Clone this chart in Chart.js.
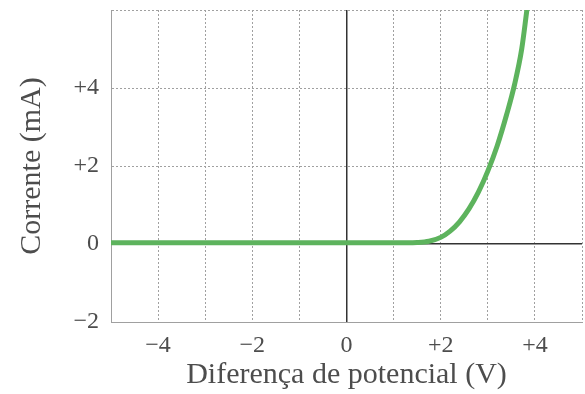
<!doctype html>
<html lang="pt">
<head>
  <meta charset="utf-8">
  <title>Corrente x Diferença de potencial</title>
  <style>
    html, body {
      margin: 0;
      padding: 0;
      background: #fff;
    }
    .wrap {
      width: 585px;
      height: 394px;
      position: relative;
    }
  </style>
</head>
<body>
  <div class="wrap">
    <canvas id="diodeChart"></canvas>
  </div>

  <script src="https://cdn.jsdelivr.net/npm/chart.js"></script>
  <script>
    // curve: voltage (V) vs current (mA)
    const voltage = [-5, -4, -3, -2, -1, 0, 1, 1.5, 1.75, 2.0, 2.2, 2.4, 2.6, 2.8, 3.0, 3.2, 3.4, 3.57, 3.72, 3.83];
    const current = [0.03, 0.03, 0.03, 0.03, 0.03, 0.03, 0.03, 0.04, 0.07, 0.17, 0.33, 0.57, 0.9, 1.33, 1.87, 2.52, 3.32, 4.1, 5.0, 6.0];

    // labelled ticks
    const xLabelValues = [-4, -2, 0, 2, 4];
    const yLabelValues = [-2, 0, 2, 4];

    const serif = 'Liberation Serif';
    const textColor = '#4d4d4d';
    const gridColor = '#a0a0a0';
    const axisColor = '#333';

    function signed(v) {
      if (v === 0) return '0';
      return v > 0 ? '+' + v : '\u2212' + Math.abs(v);
    }

    const points = voltage.map((v, i) => ({ x: v, y: current[i] }));

    const gridOpts = {
      color: c => (c.tick && c.tick.value === 0) ? axisColor : gridColor,
      lineWidth: c => (c.tick && c.tick.value === 0) ? 1.5 : 1,
      drawTicks: false
    };
    const borderOpts = {
      color: gridColor,
      width: 1,
      dash: c => (c.tick && c.tick.value === 0) ? [] : [2, 2]
    };

    new Chart(document.getElementById('diodeChart'), {
      type: 'line',
      data: {
        datasets: [{
          data: points,
          borderColor: '#5db35d',
          borderWidth: 5,
          borderCapStyle: 'round',
          pointRadius: 0,
          cubicInterpolationMode: 'monotone',
          fill: false
        }]
      },
      options: {
        responsive: true,
        maintainAspectRatio: false,
        animation: false,
        layout: { padding: { top: 10, right: 3, left: 0, bottom: 0 } },
        plugins: {
          legend: { display: false },
          tooltip: { enabled: false }
        },
        scales: {
          x: {
            type: 'linear',
            min: -5,
            max: 5,
            afterFit: s => { s.height = 72; s.paddingLeft = 0; s.paddingRight = 0; },
            grid: gridOpts,
            border: borderOpts,
            ticks: {
              stepSize: 1,
              padding: 9,
              color: textColor,
              font: { family: serif, size: 24 },
              callback: v => xLabelValues.includes(v) ? signed(v) : ''
            },
            title: {
              display: true,
              text: 'Diferença de potencial (V)',
              color: textColor,
              font: { family: serif, size: 30 },
              padding: { top: 0, bottom: 1 }
            }
          },
          y: {
            type: 'linear',
            min: -2,
            max: 6,
            afterFit: s => { s.width = 111; s.paddingTop = 0; s.paddingBottom = 0; },
            grid: gridOpts,
            border: borderOpts,
            ticks: {
              stepSize: 2,
              padding: 12,
              color: textColor,
              font: { family: serif, size: 24 },
              callback: v => yLabelValues.includes(v) ? signed(v) : ''
            },
            title: {
              display: true,
              text: 'Corrente (mA)',
              color: textColor,
              font: { family: serif, size: 30 },
              padding: { top: 14, bottom: 0 }
            }
          }
        }
      }
    });
  </script>
</body>
</html>
